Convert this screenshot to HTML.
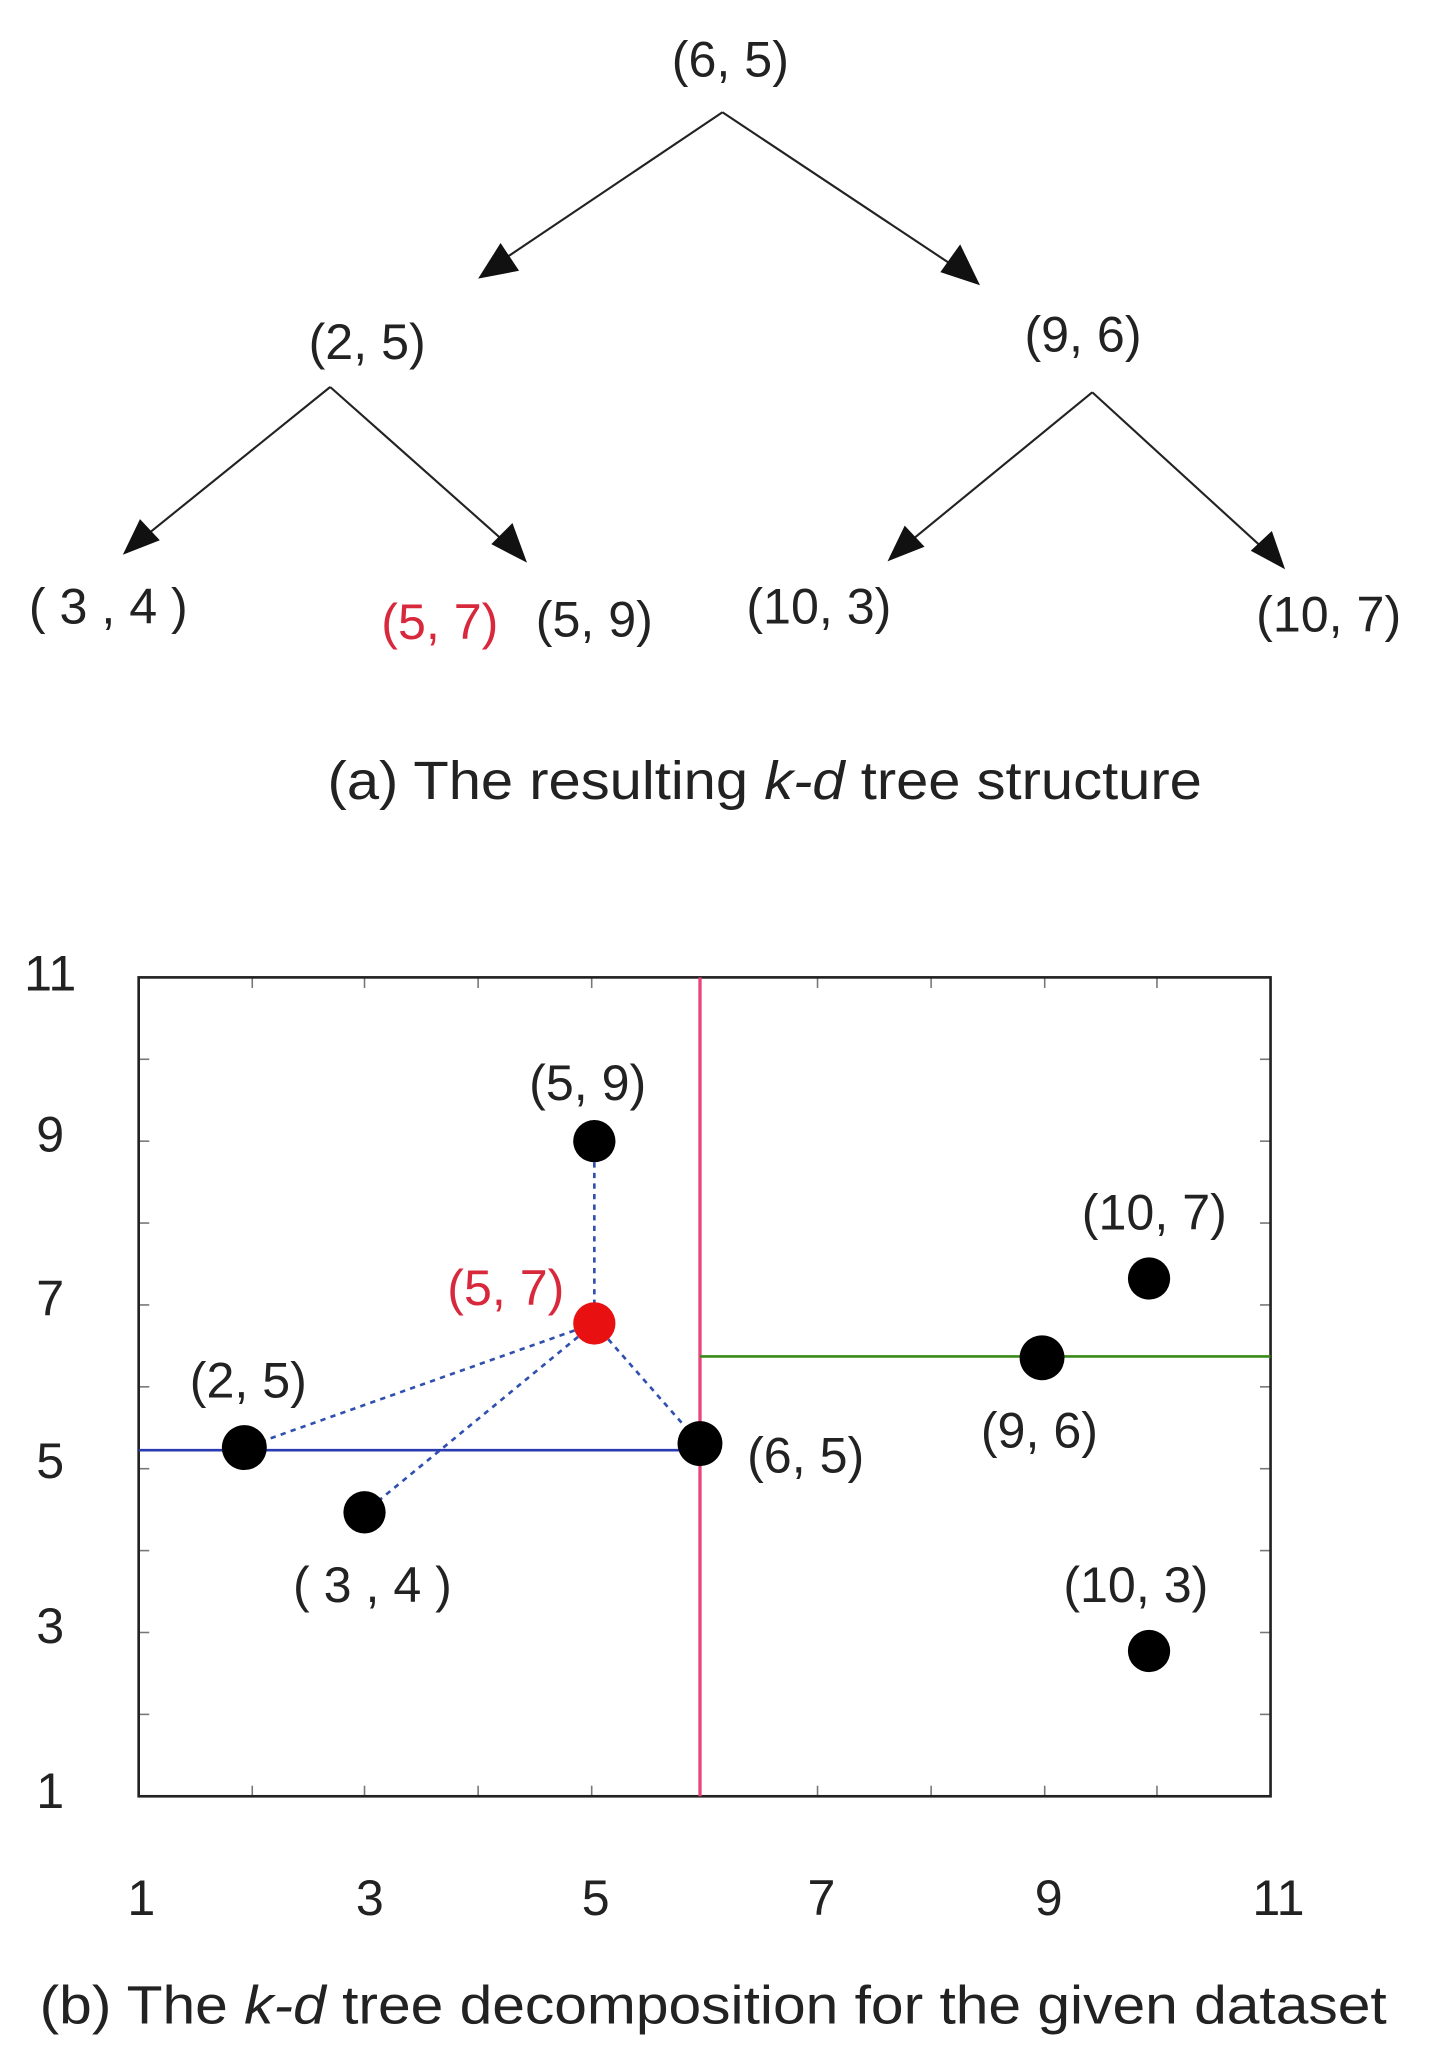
<!DOCTYPE html>
<html><head><meta charset="utf-8"><style>
html,body{margin:0;padding:0;background:#fff;}
svg{display:block;}
text{font-family:"Liberation Sans",sans-serif;}
</style></head><body>
<svg width="1433" height="2071" viewBox="0 0 1085 1568" preserveAspectRatio="none" xmlns="http://www.w3.org/2000/svg">
<g stroke="#222" stroke-width="1.6" fill="none">
<line x1="547" y1="85" x2="370" y2="204"/>
<line x1="547" y1="85" x2="735" y2="210"/>
<line x1="250" y1="293" x2="100" y2="414"/>
<line x1="250" y1="293" x2="392" y2="419"/>
<line x1="827" y1="297" x2="678" y2="419"/>
<line x1="827" y1="297" x2="966" y2="424"/>
</g>
<g fill="#111">
<polygon points="362,211 379,184 393,205"/>
<polygon points="742,216 712,206 727,185"/>
<polygon points="93,420 106,393 121,409"/>
<polygon points="399,426 372,412 388,396"/>
<polygon points="672,425 685,398 700,414"/>
<polygon points="973,431 947,417 963,402"/>
</g>
<g font-size="38" fill="#222" text-anchor="middle">
<text x="553" y="58">(6, 5)</text>
<text x="278" y="272">(2, 5)</text>
<text x="820" y="266">(9, 6)</text>
<text x="82" y="472">( 3 , 4 )</text>
<text x="333" y="484" fill="#d8283c">(5, 7)</text>
<text x="450" y="482">(5, 9)</text>
<text x="620" y="472">(10, 3)</text>
<text x="1006" y="478">(10, 7)</text>
</g>
<text x="248" y="605" font-size="41" fill="#222" textLength="662" lengthAdjust="spacingAndGlyphs">(a) The resulting <tspan font-style="italic">k-d</tspan> tree structure</text>
<g stroke="#777" stroke-width="1.2">
<line x1="191" y1="1360" x2="191" y2="1352"/><line x1="276" y1="1360" x2="276" y2="1352"/><line x1="362" y1="1360" x2="362" y2="1352"/><line x1="448" y1="1360" x2="448" y2="1352"/><line x1="619" y1="1360" x2="619" y2="1352"/><line x1="705" y1="1360" x2="705" y2="1352"/><line x1="791" y1="1360" x2="791" y2="1352"/><line x1="876" y1="1360" x2="876" y2="1352"/>
<line x1="191" y1="740" x2="191" y2="748"/><line x1="276" y1="740" x2="276" y2="748"/><line x1="362" y1="740" x2="362" y2="748"/><line x1="448" y1="740" x2="448" y2="748"/><line x1="619" y1="740" x2="619" y2="748"/><line x1="705" y1="740" x2="705" y2="748"/><line x1="791" y1="740" x2="791" y2="748"/><line x1="876" y1="740" x2="876" y2="748"/>
<line x1="105" y1="802" x2="113" y2="802"/><line x1="105" y1="864" x2="113" y2="864"/><line x1="105" y1="926" x2="113" y2="926"/><line x1="105" y1="988" x2="113" y2="988"/><line x1="105" y1="1050" x2="113" y2="1050"/><line x1="105" y1="1112" x2="113" y2="1112"/><line x1="105" y1="1174" x2="113" y2="1174"/><line x1="105" y1="1236" x2="113" y2="1236"/><line x1="105" y1="1298" x2="113" y2="1298"/>
<line x1="962" y1="802" x2="954" y2="802"/><line x1="962" y1="864" x2="954" y2="864"/><line x1="962" y1="926" x2="954" y2="926"/><line x1="962" y1="988" x2="954" y2="988"/><line x1="962" y1="1050" x2="954" y2="1050"/><line x1="962" y1="1112" x2="954" y2="1112"/><line x1="962" y1="1174" x2="954" y2="1174"/><line x1="962" y1="1236" x2="954" y2="1236"/><line x1="962" y1="1298" x2="954" y2="1298"/>
</g>
<rect x="105" y="740" width="857" height="620" fill="none" stroke="#222" stroke-width="2"/>
<line x1="530" y1="740" x2="530" y2="1360" stroke="#e8457a" stroke-width="2.5"/>
<line x1="105" y1="1098" x2="530" y2="1098" stroke="#2a3ab0" stroke-width="2"/>
<line x1="530" y1="1027" x2="962" y2="1027" stroke="#3a8a1a" stroke-width="2"/>
<g stroke="#3050b0" stroke-width="2" stroke-dasharray="4,4" fill="none">
<line x1="450" y1="864" x2="450" y2="1002"/>
<line x1="450" y1="1002" x2="185" y2="1096"/>
<line x1="450" y1="1002" x2="276" y2="1145"/>
<line x1="450" y1="1002" x2="530" y2="1093"/>
</g>
<g fill="#000">
<circle cx="185" cy="1096" r="17"/><circle cx="276" cy="1145" r="16"/><circle cx="450" cy="864" r="16"/>
<circle cx="530" cy="1093" r="17"/><circle cx="789" cy="1028" r="17"/><circle cx="870" cy="968" r="16"/><circle cx="870" cy="1250" r="16"/>
</g>
<circle cx="450" cy="1002" r="16" fill="#e81010"/>
<g font-size="38" fill="#222" text-anchor="middle">
<text x="445" y="833">(5, 9)</text>
<text x="383" y="988" fill="#d8283c">(5, 7)</text>
<text x="188" y="1058">(2, 5)</text>
<text x="282" y="1213">( 3 , 4 )</text>
<text x="610" y="1115">(6, 5)</text>
<text x="787" y="1096">(9, 6)</text>
<text x="874" y="931">(10, 7)</text>
<text x="860" y="1213">(10, 3)</text>
<text x="38" y="750">11</text><text x="38" y="872">9</text><text x="38" y="996">7</text><text x="38" y="1119">5</text><text x="38" y="1244">3</text><text x="38" y="1369">1</text>
<text x="107" y="1450">1</text><text x="280" y="1450">3</text><text x="451" y="1450">5</text><text x="622" y="1450">7</text><text x="794" y="1450">9</text><text x="968" y="1450">11</text>
</g>
<text x="30" y="1532" font-size="41" fill="#222" textLength="1020" lengthAdjust="spacingAndGlyphs">(b) The <tspan font-style="italic">k-d</tspan> tree decomposition for the given dataset</text>
</svg>
</body></html>
